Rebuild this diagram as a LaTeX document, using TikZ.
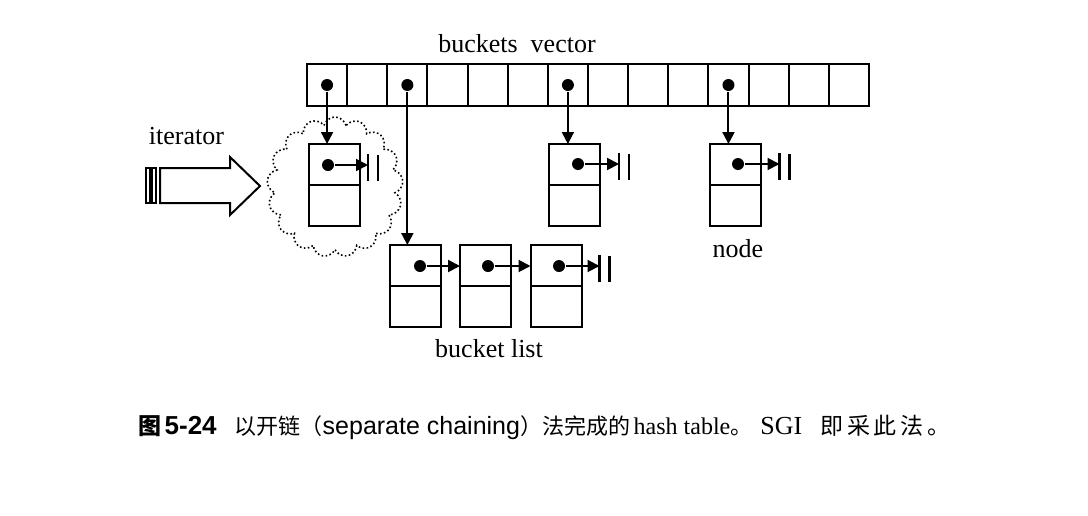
\documentclass[tikz,border=0pt]{standalone}
\usepackage{fontspec}
\setmainfont{Liberation Serif}
\setsansfont{Liberation Sans}
\newfontfamily\cjk{Noto Sans CJK SC}
\usetikzlibrary{positioning,arrows.meta,calc,shapes.symbols}

\begin{document}
\begin{tikzpicture}[x=0.5pt, y=-0.5pt, line width=1pt,
  cell/.style={draw, minimum width=20.07pt, minimum height=21pt, inner sep=0pt, outer sep=0pt},
  lnk/.style={draw, minimum width=25.5pt, minimum height=20.5pt, inner sep=0pt, outer sep=0pt},
  val/.style={lnk},
  ptr/.style={circle, fill, inner sep=0pt, minimum size=6pt},
  arr/.style={-{Triangle[length=6pt, width=6pt]}},
  nil/.style={line width=1.3pt},
  lbl/.style={font=\fontsize{13}{15}\selectfont, inner sep=0pt}]
\useasboundingbox (0,0) rectangle (1088,515);
% buckets vector
\node[lbl] (title) at (517,44) {buckets\ \ vector};
\foreach \i in {0,...,13}
  \node[cell] (b\i) at ({327.07+40.14*\i},85) {};
\foreach \i in {0,2,6,10}
  \node[ptr] (p\i) at (b\i) {};
% node the iterator points at
\node[cloud, draw, line width=0.8pt, dash pattern=on 0.8pt off 1.2pt, cloud puffs=17, aspect=1,
  minimum width=68pt, minimum height=70pt, inner sep=0pt] (cl) at (335,187) {};
\node[lnk] (c) at (334.5,164.5) {};
\node[val, below=0pt of c] (cv) {};
\node[ptr] (cd) at (328,165) {};
% iterator
\node[lbl] (iter) at (186.5,136) {iterator};
\draw (146,168) rectangle (150,203);
\draw (152,168) rectangle (156,203);
\draw (160,168) -- (230,168) -- (230,157) -- (260,186) -- (230,215) -- (230,203) -- (160,203) -- cycle;
% other buckets
\node[lnk] (m) at (574.5,164.5) {};
\node[val, below=0pt of m] (mv) {};
\node[ptr] (md) at (578,164) {};
\node[lnk] (r) at (735,164.5) {};
\node[val, below=0pt of r] (rv) {};
\node[ptr] (rd) at (738,164) {};
\node[lbl] (nodelbl) at (738,249) {node};
% bucket list
\node[lnk] (l1) at (415.5,265.5) {};
\node[val, below=0pt of l1] (l1v) {};
\node[ptr] (l1d) at (420,266) {};
\node[lnk] (l2) at (485.5,265.5) {};
\node[val, below=0pt of l2] (l2v) {};
\node[ptr] (l2d) at (488,266) {};
\node[lnk] (l3) at (556,265.5) {};
\node[val, below=0pt of l3] (l3v) {};
\node[ptr] (l3d) at (559,266) {};
\node[lbl] (listlbl) at (489,349) {bucket list};
% links
\draw[arr] (p0) -- (p0 |- c.north);
\draw[arr] (p2) -- (p2 |- l1.north);
\draw[arr] (p6) -- (p6 |- m.north);
\draw[arr] (p10) -- (p10 |- r.north);
\draw[arr] (l1d) -- (l1d -| l2.west);
\draw[arr] (l2d) -- (l2d -| l3.west);
\foreach \d/\e/\s in {cd/c/4pt, md/m/9.5pt, rd/r/9.5pt, l3d/l3/9pt} {
  \coordinate (\e-nil) at ($(\e.east |- \d)+(\s,0)$);
  \draw[arr] (\d) -- (\e-nil);
  \draw[nil] ([yshift=5.5pt]\e-nil) -- ([yshift=-8pt]\e-nil);
  \draw[nil] ([xshift=5pt,yshift=5pt]\e-nil) -- ([xshift=5pt,yshift=-8pt]\e-nil);
}
% caption
\node[anchor=west, inner sep=0pt, font=\fontsize{11}{14}\selectfont] (cap) at (137,427)
  {{\cjk\bfseries\fontsize{11.5}{14}\selectfont 图}\,{\sffamily\bfseries\fontsize{13}{14}\selectfont 5-24}\hspace{9pt}{\cjk 以开链（}{\sffamily\fontsize{12.5}{14}\selectfont separate chaining}{\cjk ）法完成的}\,{\fontsize{12}{14}\selectfont hash table}{\cjk 。}\hspace{4pt}{\fontsize{13}{14}\selectfont SGI}\hspace{9pt}{\cjk\fontsize{11.5}{14}\selectfont 即\,采\,此\,法\,。}};
\end{tikzpicture}
\end{document}
